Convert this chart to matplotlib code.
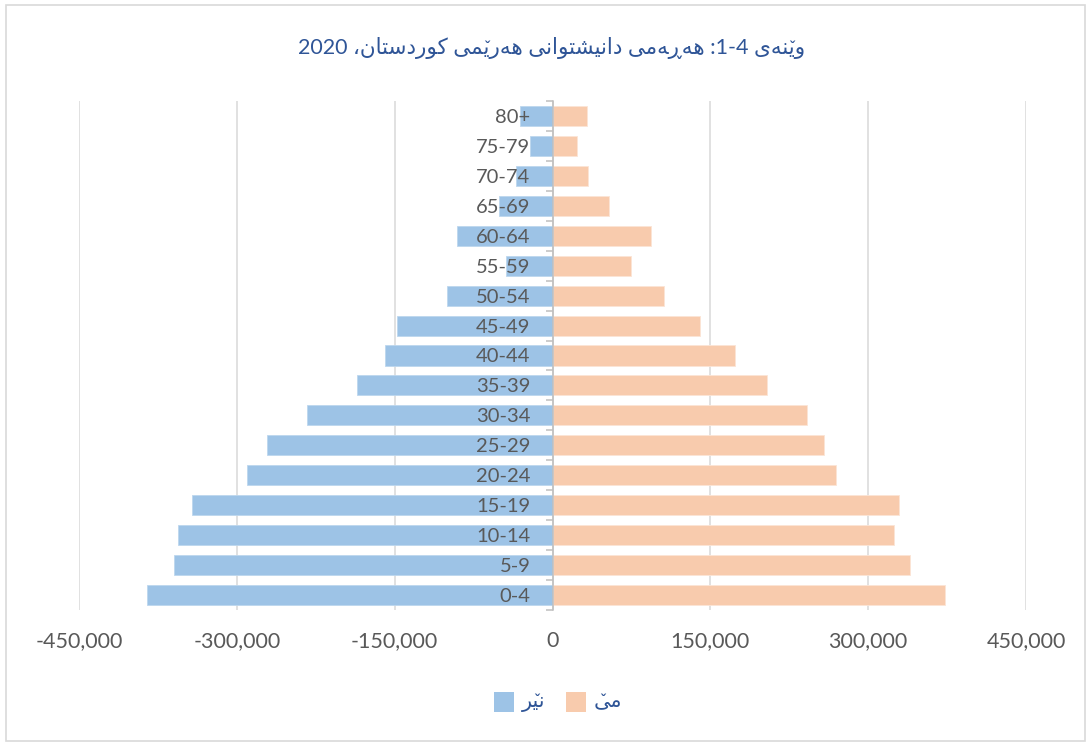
import matplotlib
matplotlib.use("Agg")
import matplotlib.pyplot as plt
from matplotlib import font_manager
from matplotlib.font_manager import FontProperties
from matplotlib.ft2font import FT2Font
from matplotlib.patches import Rectangle
from matplotlib.ticker import FuncFormatter

# ---------------- data ----------------
ages = ['0-4', '5-9', '10-14', '15-19', '20-24', '25-29', '30-34', '35-39',
        '40-44', '45-49', '50-54', '55-59', '60-64', '65-69', '70-74',
        '75-79', '80+']
male = [385000, 360000, 356000, 342600, 289900, 271500, 233300, 186200,
        159000, 147500, 100400, 44000, 91000, 51000, 35000, 21000, 30500]
female = [373000, 340000, 325000, 329000, 269000, 258000, 242000, 204000,
          173000, 140000, 106000, 75000, 94000, 54000, 34000, 23000, 33000]
xticks = [-450000, -300000, -150000, 0, 150000, 300000, 450000]
title_text = 'وێنەی 1-4: هەڕەمی دانیشتوانی هەرێمی کوردستان، 2020'
legend_labels = ['نێر', 'مێ']

BLUE = '#9DC3E6'
ORANGE = '#F8CBAD'
TITLE_C = '#2F5597'
GREY_T = '#595959'
GRID_C = '#D9D9D9'

# ---------------- simple Arabic shaping (matplotlib has no CTL) ----------
_dv = FT2Font(font_manager.findfont('DejaVu Sans'))


def has(cp):
    return _dv.get_char_index(cp) != 0


# forms: (isolated, final, initial, medial)
FORMS = {
    'ا': (0xFE8D, 0xFE8E, None, None),
    'د': (0xFEA9, 0xFEAA, None, None),
    'ر': (0xFEAD, 0xFEAE, None, None),
    'و': (0xFEED, 0xFEEE, None, None),
    'ڕ': (0x0695, 0x0695, None, None),
    'ە': (0xFEEA, 0xFEEA, None, None),
    'ت': (0xFE95, 0xFE96, 0xFE97, 0xFE98),
    'س': (0xFEB1, 0xFEB2, 0xFEB3, 0xFEB4),
    'ش': (0xFEB5, 0xFEB6, 0xFEB7, 0xFEB8),
    'ک': (0xFB8E, 0xFB8F, 0xFB90, 0xFB91),
    'م': (0xFEE1, 0xFEE2, 0xFEE3, 0xFEE4),
    'ن': (0xFEE5, 0xFEE6, 0xFEE7, 0xFEE8),
    'ه': (0xFEE9, 0xFEEA, 0xFEEB, 0xFEEC),
    'ی': (0xFBFC, 0xFBFD, 0xFBFE, 0xFBFF),
    'ێ': (0xFBFC, 0xFBFD, 0xFBFE, 0xFBFF),
}
DUAL = set('تسشکمنهیێ')
MARKED = set('ێ')


def shape_rtl(text):
    """Return visual (left-to-right) string and indices needing a small v."""
    chars = list(text)
    glyphs = []
    for i, ch in enumerate(chars):
        if ch in FORMS:
            prev = chars[i - 1] if i > 0 else ''
            nxt = chars[i + 1] if i + 1 < len(chars) else ''
            jp = prev in DUAL
            jn = ch in DUAL and nxt in FORMS
            iso, fin, ini, med = FORMS[ch]
            cp = med if (jp and jn) else fin if jp else ini if jn else iso
            g = chr(cp) if (cp is not None and has(cp)) else ch
            glyphs.append((g, ch in MARKED))
        else:
            glyphs.append((ch, False))
    glyphs = glyphs[::-1]
    out, run = [], []
    for g in glyphs:
        if g[0] in '0123456789-':
            run.append(g)
        else:
            out.extend(run[::-1])
            run = []
            out.append(g)
    out.extend(run[::-1])
    vis = ''.join(g for g, _ in out)
    marks = [i for i, (_, m) in enumerate(out) if m]
    return vis, marks


plt.rcParams['font.family'] = ['Lato', 'DejaVu Sans']
W, H = 1091, 746
fig = plt.figure(figsize=(W / 100, H / 100), dpi=100)
renderer = fig.canvas.get_renderer()


def text_w(s, prop):
    return renderer.get_text_width_height_descent(s, prop, ismath=False)[0]


def draw_rtl(xpix, ypix_base, logical, size, color, ha='center'):
    vis, marks = shape_rtl(logical)
    prop = FontProperties(family=['Lato', 'DejaVu Sans'], size=size)
    tw = text_w(vis, prop)
    x0 = xpix - tw / 2 if ha == 'center' else xpix
    fig.text(x0 / W, 1 - ypix_base / H, vis, ha='left', va='baseline',
             fontproperties=prop, color=color)
    mprop = FontProperties(family=['Lato', 'DejaVu Sans'], size=size * 0.85)
    for i in marks:
        wp = text_w(vis[:i + 1], prop)
        wb = text_w(vis[i], prop)
        cx = x0 + wp - wb / 2
        fig.text(cx / W, 1 - (ypix_base - size * 0.08) / H, '\u02C7',
                 ha='center', va='baseline', fontproperties=mprop,
                 color=color)


# chart-area border
fig.patches.append(Rectangle((6 / W, 5 / H), (W - 12) / W, (H - 10) / H,
                             transform=fig.transFigure, fill=False,
                             edgecolor='#D9D9D9', lw=1.2))

ax = fig.add_axes([79 / W, 1 - 610 / H, (1026 - 79) / W, (610 - 101) / H])
y = list(range(len(ages)))
ax.barh(y, [-v for v in male], height=0.67, color=BLUE,
        edgecolor='#BDD7EE', lw=0.6, zorder=1)
ax.barh(y, female, height=0.67, color=ORANGE,
        edgecolor='#FBE5D6', lw=0.6, zorder=1)

ax.set_xlim(xticks[0], xticks[-1])
ax.set_ylim(-0.5, len(ages) - 0.5)
ax.set_xticks(xticks)
ax.xaxis.set_major_formatter(FuncFormatter(lambda v, p: f'{int(v):,}'))
ax.tick_params(axis='x', length=0, pad=15, labelsize=15.5, labelcolor=GREY_T)
ax.xaxis.grid(True, color=GRID_C, lw=1.1)
ax.xaxis.set_zorder(0.5)

for s in ['top', 'right', 'bottom']:
    ax.spines[s].set_visible(False)
ax.spines['left'].set_position(('data', 0))
ax.spines['left'].set_color('#BFBFBF')
ax.spines['left'].set_linewidth(1.1)

ax.set_yticks(y)
ax.set_yticklabels(ages)
ax.set_yticks([v - 0.5 for v in range(len(ages) + 1)], minor=True)
ax.tick_params(axis='y', which='major', length=0, pad=16, labelsize=14.5,
               labelcolor=GREY_T)
ax.tick_params(axis='y', which='minor', length=5, width=1.1,
               color='#BFBFBF', direction='out')
ax.yaxis.set_zorder(3)

# title
draw_rtl(552, 54, title_text, 15.5, TITLE_C, ha='center')

# legend (drawn manually so the Kurdish glyphs can be composed)
sq = 20
for (x_sq, x_txt, col, lab) in [(494, 522, BLUE, legend_labels[0]),
                                 (566, 594, ORANGE, legend_labels[1])]:
    fig.patches.append(Rectangle((x_sq / W, 1 - (702 + sq / 2) / H),
                                 sq / W, sq / H, transform=fig.transFigure,
                                 facecolor=col, edgecolor='none'))
    draw_rtl(x_txt, 707, lab, 15, TITLE_C, ha='left')

fig.savefig('out.png', dpi=100)
